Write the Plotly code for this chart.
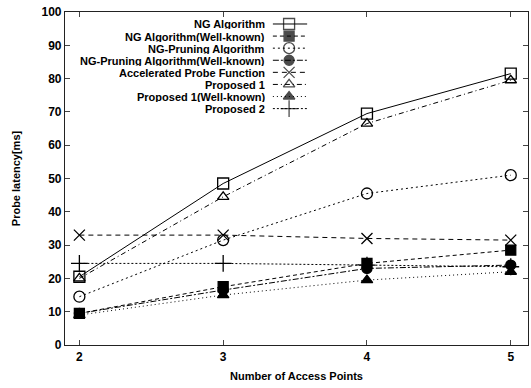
import plotly.graph_objects as go

x_points = [2, 3, 4, 5]
series_names = [
    "NG Algorithm",
    "NG Algorithm(Well-known)",
    "NG-Pruning Algorithm",
    "NG-Pruning Algorithm(Well-known)",
    "Accelerated Probe Function",
    "Proposed 1",
    "Proposed 1(Well-known)",
    "Proposed 2",
]
ng = [20.5, 48.5, 69.5, 81.5]
ng_wk = [9.5, 17.5, 24.5, 28.5]
ngp = [14.5, 31.5, 45.5, 51.0]
ngp_wk = [9.5, 16.5, 23.0, 24.0]
accel = [33.0, 33.0, 32.0, 31.5]
prop1 = [20.0, 44.5, 66.5, 79.5]
prop1_wk = [9.0, 15.0, 19.5, 22.0]
prop2 = [24.5, 24.5, 24.0, 23.5]
y_ticks = [0, 10, 20, 30, 40, 50, 60, 70, 80, 90, 100]

all_series = [ng, ng_wk, ngp, ngp_wk, accel, prop1, prop1_wk, prop2]
symbols = ["square-open", "square", "circle-open", "circle", "x-thin-open",
           "triangle-up-open", "triangle-up", "cross-thin-open"]
dashes = ["solid", "4px,3px", "2px,3px", "6px,2px,2px,2px", "5px,4px",
          "5px,3px,1px,3px", "1px,3px", "2px,2px"]
msizes = [11, 10, 11, 10, 11, 10, 10, 12]

fig = go.Figure()
for name, ys, sym, dsh, ms in zip(series_names, all_series, symbols, dashes, msizes):
    fig.add_trace(go.Scatter(
        x=x_points, y=ys, name=name, mode="lines+markers",
        line=dict(color="black", width=1, dash=dsh),
        marker=dict(symbol=sym, size=ms, color="black",
                    line=dict(color="black", width=1.3)),
        showlegend=False,
    ))

# custom legend (text right-aligned, sample on the right) drawn on an overlay axis
row0 = 0.964
row_step = 0.0363
for i, (name, sym, dsh, ms) in enumerate(zip(series_names, symbols, dashes, msizes)):
    yy = row0 - i * row_step
    fig.add_trace(go.Scatter(
        x=[0.449, 0.484, 0.523], y=[yy, yy, yy], mode="lines+markers",
        line=dict(color="black", width=1, dash=dsh),
        marker=dict(symbol=[sym, sym, sym], size=[0, ms, 0], color="black",
                    line=dict(color="black", width=1.3)),
        xaxis="x2", yaxis="y2", showlegend=False, hoverinfo="skip",
    ))
    fig.add_annotation(x=0.434, y=yy, xref="x2", yref="y2", text="<b>" + name + "</b>",
                       showarrow=False, xanchor="right", yanchor="middle",
                       height=11, borderpad=0,
                       font=dict(size=11, color="black"))

axis_font = dict(family="Liberation Sans, Arial, sans-serif", size=12, color="black", weight="bold")
title_font = dict(family="Liberation Sans, Arial, sans-serif", size=11, color="black", weight="bold")
fig.update_layout(
    width=531, height=388,
    margin=dict(l=65, r=3, t=12, b=43),
    paper_bgcolor="white", plot_bgcolor="white",
    font=dict(family="Liberation Sans, Arial, sans-serif", size=12, color="black"),
    xaxis=dict(range=[1.90, 5.12], tickvals=x_points, ticks="inside", ticklen=5,
               showline=True, linecolor="#222", linewidth=1.2, mirror="ticks",
               showgrid=False, zeroline=False, tickfont=axis_font,
               title=dict(text="Number of Access Points", font=title_font, standoff=9)),
    yaxis=dict(range=[0, 100], tickvals=y_ticks, ticks="inside", ticklen=5,
               showline=True, linecolor="#222", linewidth=1.2, mirror="ticks",
               showgrid=False, zeroline=False, tickfont=axis_font,
               title=dict(text="Probe latency[ms]", font=title_font, standoff=18)),
    xaxis2=dict(range=[0, 1], overlaying="x", visible=False, fixedrange=True),
    yaxis2=dict(range=[0, 1], overlaying="y", visible=False, fixedrange=True),
)

fig.write_html("out.html")
